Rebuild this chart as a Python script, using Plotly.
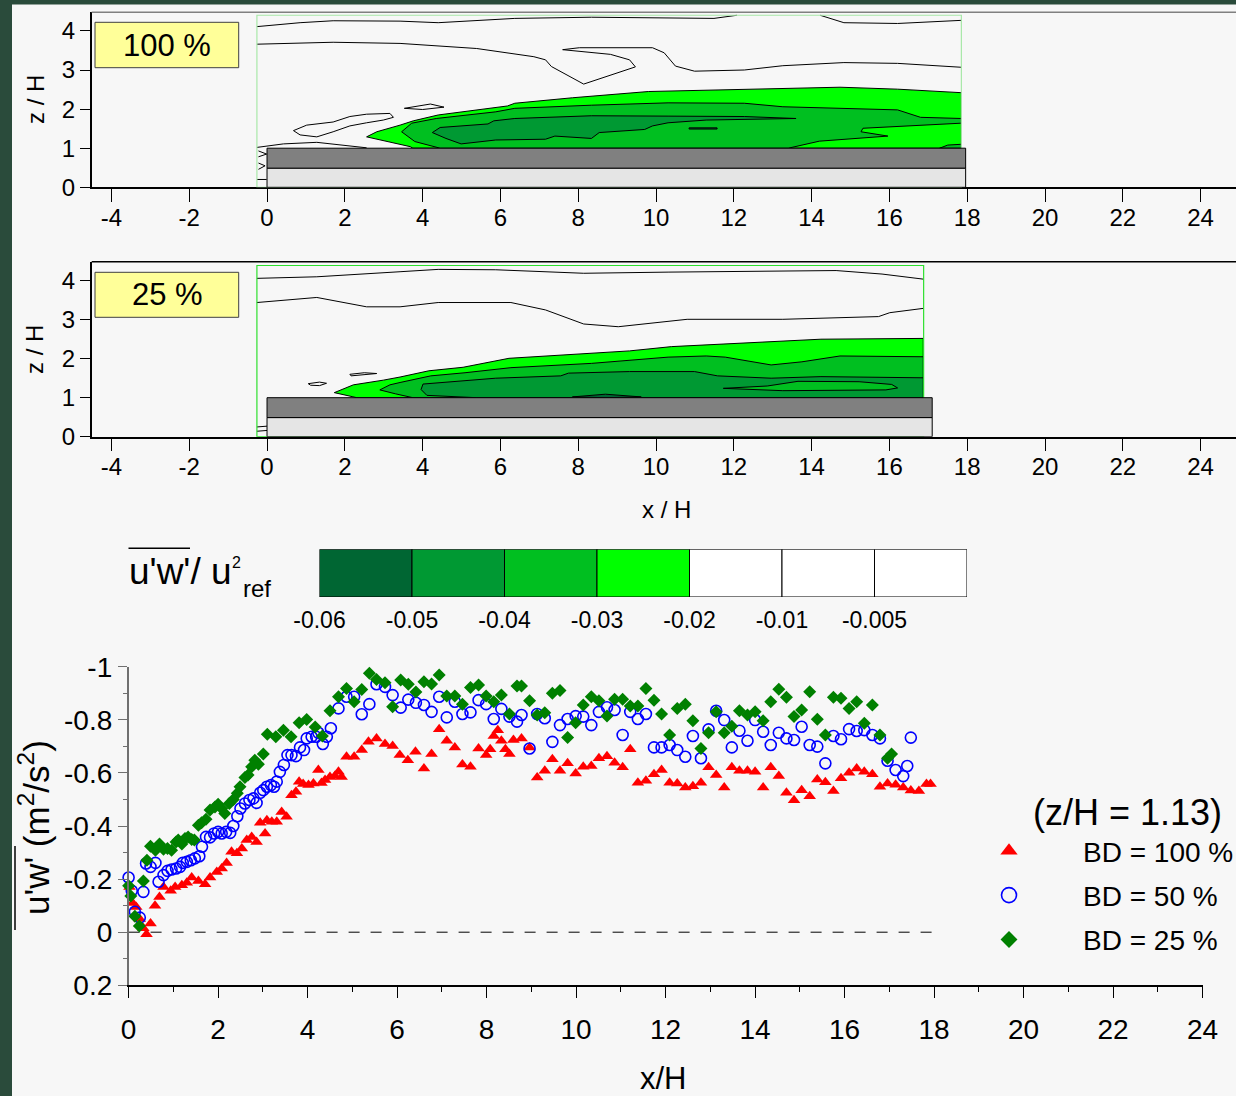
import plotly.graph_objects as go

W, H = 1236, 1096
FONT = "Liberation Sans, Arial, sans-serif"

# ---------------- scatter data (z/H = 1.13) ----------------
bd100_x = [0.02, 0.09, 0.17, 0.25, 0.33, 0.40, 0.49, 0.59, 0.69, 0.78,
           0.94, 1.04, 1.19, 1.30, 1.41, 1.56, 1.71, 1.82, 1.97, 2.08,
           2.19, 2.30, 2.42, 2.53, 2.64, 2.75, 2.86, 2.94, 3.05, 3.09,
           3.20, 3.31, 3.42, 3.53, 3.64, 3.74, 3.81, 3.90, 4.02, 4.13,
           4.24, 4.31, 4.39, 4.50, 4.61, 4.69, 4.76, 4.87, 5.04, 5.21,
           5.36, 5.54, 5.73, 5.90, 6.06,
           6.24, 6.41, 6.60, 6.77, 6.94, 7.11, 7.29, 7.46, 7.64, 7.82,
           7.99, 8.08, 8.16, 8.25, 8.33, 8.42, 8.51, 8.60, 8.78, 8.96,
           9.13, 9.30, 9.47, 9.64, 9.81, 9.99, 10.16, 10.34, 10.51, 10.69,
           10.86, 11.04, 11.21, 11.38, 11.56, 11.74, 11.91, 12.09, 12.26, 12.44,
           12.61, 12.79, 12.96, 13.13, 13.31, 13.48, 13.65, 13.83, 14.00, 14.18,
           14.35, 14.53, 14.70, 14.87, 15.04, 15.22, 15.39, 15.57, 15.75, 15.92,
           16.10, 16.27, 16.44, 16.62, 16.79, 16.96, 17.14, 17.31, 17.48, 17.66,
           17.83, 17.92]
bd100_y = [-0.17, -0.11, -0.095, -0.05, -0.015, 0.008, -0.033, -0.10, -0.133, -0.17,
           -0.156, -0.170, -0.177, -0.186, -0.206, -0.193, -0.181, -0.206, -0.227, -0.240,
           -0.261, -0.303, -0.297, -0.315, -0.347, -0.359, -0.340, -0.412, -0.372, -0.422,
           -0.416, -0.416, -0.453, -0.435, -0.516, -0.529, -0.567, -0.558, -0.554, -0.560,
           -0.611, -0.562, -0.573, -0.585, -0.588, -0.604, -0.585, -0.661, -0.661, -0.686,
           -0.717, -0.730, -0.709, -0.701, -0.667,
           -0.648, -0.680, -0.617, -0.671, -0.764, -0.721, -0.696, -0.632, -0.623, -0.692,
           -0.667, -0.689, -0.739, -0.761, -0.721, -0.689, -0.671, -0.724, -0.730, -0.696,
           -0.583, -0.608, -0.651, -0.608, -0.636, -0.598, -0.623, -0.626, -0.655, -0.663,
           -0.638, -0.621, -0.689, -0.563, -0.570, -0.595, -0.611, -0.563, -0.560, -0.545,
           -0.550, -0.563, -0.621, -0.592, -0.545, -0.621, -0.608, -0.608, -0.604, -0.545,
           -0.621, -0.588, -0.525, -0.497, -0.535, -0.512, -0.575, -0.565, -0.532, -0.580,
           -0.601, -0.617, -0.604, -0.595, -0.548, -0.560, -0.555, -0.545, -0.534, -0.532,
           -0.558, -0.558]

bd50_x = [0.00, 0.07, 0.14, 0.25, 0.33, 0.39, 0.49, 0.60, 0.67, 0.78,
          0.87, 0.96, 1.06, 1.15, 1.21, 1.30, 1.39, 1.48, 1.58, 1.64,
          1.73, 1.82, 1.91, 2.00, 2.08, 2.18, 2.27, 2.34, 2.43, 2.50,
          2.60, 2.70, 2.79, 2.86, 2.94, 3.01, 3.09, 3.18, 3.25, 3.31,
          3.38, 3.47, 3.55, 3.64, 3.74, 3.83, 3.92, 3.98, 4.09, 4.19,
          4.24, 4.34, 4.43, 4.52, 4.69, 4.87, 5.04, 5.21, 5.38, 5.54,
          5.73, 5.90, 6.08, 6.25, 6.42,
          6.60, 6.77, 6.94, 7.11, 7.29, 7.46, 7.64, 7.82, 7.99, 8.16,
          8.33, 8.51, 8.68, 8.78, 8.96, 9.13, 9.30, 9.47, 9.64, 9.81,
          9.99, 10.16, 10.34, 10.51, 10.69, 10.86, 11.04, 11.21, 11.38, 11.56,
          11.74, 11.91, 12.09, 12.26, 12.44, 12.61, 12.79, 12.96, 13.13, 13.31,
          13.48, 13.65, 13.83, 14.00, 14.18, 14.35, 14.53, 14.70, 14.87, 15.04,
          15.22, 15.39, 15.57, 15.75, 15.92, 16.10, 16.27, 16.44, 16.62, 16.79,
          16.96, 17.14, 17.31, 17.40, 17.48]
bd50_y = [-0.206, -0.156, -0.077, -0.055, -0.152, -0.259, -0.246, -0.261, -0.190, -0.215,
          -0.231, -0.236, -0.240, -0.246, -0.261, -0.265, -0.271, -0.278, -0.286, -0.322,
          -0.359, -0.357, -0.372, -0.378, -0.372, -0.378, -0.374, -0.400, -0.437, -0.466,
          -0.485, -0.498, -0.504, -0.487, -0.525, -0.535, -0.548, -0.554, -0.548, -0.567,
          -0.604, -0.630, -0.667, -0.667, -0.663, -0.696, -0.686, -0.730, -0.736, -0.736,
          -0.751, -0.709, -0.736, -0.768, -0.843, -0.887, -0.887, -0.821, -0.859, -0.934,
          -0.924, -0.893, -0.846, -0.876, -0.864,
          -0.856, -0.830, -0.887, -0.809, -0.868, -0.822, -0.828, -0.874, -0.859, -0.803,
          -0.841, -0.812, -0.793, -0.818, -0.692, -0.822, -0.806, -0.717, -0.780, -0.803,
          -0.814, -0.812, -0.780, -0.830, -0.847, -0.837, -0.743, -0.830, -0.803, -0.822,
          -0.696, -0.696, -0.705, -0.686, -0.661, -0.739, -0.655, -0.764, -0.834, -0.799,
          -0.696, -0.759, -0.721, -0.799, -0.755, -0.705, -0.751, -0.730, -0.724, -0.774,
          -0.705, -0.699, -0.636, -0.739, -0.727, -0.765, -0.758, -0.761, -0.743, -0.730,
          -0.646, -0.611, -0.588, -0.626, -0.733]

bd25_x = [0.00, 0.05, 0.14, 0.24, 0.33, 0.41, 0.49, 0.60, 0.69, 0.78,
          0.87, 0.96, 1.06, 1.11, 1.19, 1.26, 1.33, 1.41, 1.47, 1.56,
          1.63, 1.73, 1.82, 1.93, 2.00, 2.08, 2.15, 2.25, 2.34, 2.43,
          2.49, 2.60, 2.67, 2.75, 2.82, 2.90, 3.01, 3.10, 3.29, 3.46,
          3.63, 3.81, 3.98, 4.17, 4.33, 4.50, 4.69, 4.87, 5.04, 5.21,
          5.38, 5.54, 5.73, 5.90, 6.08, 6.25, 6.42,
          6.60, 6.77, 6.94, 7.11, 7.29, 7.46, 7.64, 7.82, 7.99, 8.16,
          8.33, 8.51, 8.68, 8.78, 8.96, 9.13, 9.30, 9.47, 9.64, 9.81,
          9.99, 10.16, 10.34, 10.51, 10.69, 10.86, 11.04, 11.21, 11.38, 11.56,
          11.74, 11.91, 12.09, 12.26, 12.44, 12.61, 12.79, 12.96, 13.13, 13.31,
          13.48, 13.65, 13.83, 14.00, 14.18, 14.35, 14.53, 14.70, 14.87, 15.04,
          15.22, 15.39, 15.57, 15.75, 15.92, 16.10, 16.27, 16.44, 16.62, 16.79,
          16.96, 17.05]
bd25_y = [-0.175, -0.136, -0.060, -0.023, -0.193, -0.271, -0.324, -0.309, -0.332, -0.312,
          -0.315, -0.309, -0.340, -0.347, -0.332, -0.353, -0.359, -0.349, -0.347, -0.403,
          -0.412, -0.425, -0.460, -0.472, -0.482, -0.466, -0.447, -0.485, -0.500, -0.523,
          -0.548, -0.583, -0.592, -0.623, -0.648, -0.633, -0.671, -0.746, -0.736, -0.761,
          -0.736, -0.789, -0.801, -0.773, -0.739, -0.834, -0.887, -0.918, -0.868, -0.914,
          -0.975, -0.952, -0.940, -0.849, -0.950, -0.934, -0.905,
          -0.943, -0.935, -0.969, -0.890, -0.890, -0.859, -0.922, -0.931, -0.890, -0.868,
          -0.893, -0.822, -0.927, -0.927, -0.872, -0.818, -0.827, -0.900, -0.910, -0.733,
          -0.789, -0.856, -0.887, -0.872, -0.814, -0.877, -0.877, -0.852, -0.852, -0.918,
          -0.874, -0.822, -0.743, -0.843, -0.859, -0.796, -0.692, -0.751, -0.830, -0.751,
          -0.776, -0.834, -0.818, -0.830, -0.796, -0.868, -0.915, -0.885, -0.812, -0.837,
          -0.906, -0.802, -0.743, -0.885, -0.881, -0.843, -0.868, -0.787, -0.856, -0.743,
          -0.655, -0.671]

zero_line_x = [0, 18]
zero_line_y = [0, 0]

series_names = ["BD = 100 %", "BD = 50 %", "BD = 25 %"]
legend_title = "(z/H = 1.13)"

# ---------------- colour bar ----------------
level_labels = ["-0.06", "-0.05", "-0.04", "-0.03", "-0.02", "-0.01", "-0.005"]
level_colors = ["#006633", "#009933", "#00bf20", "#00ff00", "#ffffff", "#ffffff", "#ffffff"]

# ---------------- contour outlines, panel "100 %" (x/H, z/H) ----------------
c100_l2_x = [2.56, 2.82, 3.42, 3.76, 4.40, 5.39, 6.18, 6.37, 7.85, 9.81, 12.27, 14.73, 16.21, 17.85, 17.85, 3.75, 3.68, 2.91, 2.56]
c100_l2_z = [1.29, 1.42, 1.59, 1.70, 1.85, 1.98, 2.08, 2.15, 2.29, 2.45, 2.51, 2.56, 2.51, 2.42, 1.00, 1.00, 1.04, 1.21, 1.29]
c100_l3_x = [3.46, 3.72, 4.35, 5.88, 6.37, 8.34, 10.31, 12.27, 13.26, 14.73, 16.21, 16.80, 17.85, 17.85, 15.32, 15.27, 15.96, 14.20, 13.40, 4.45, 3.80, 3.46]
c100_l3_z = [1.42, 1.64, 1.76, 1.93, 2.02, 2.10, 2.16, 2.15, 2.06, 2.02, 1.98, 1.79, 1.76, 1.64, 1.51, 1.42, 1.31, 1.18, 1.00, 1.00, 1.17, 1.42]
c100_l3b_x = [17.29, 17.50, 17.85, 17.85, 17.29]
c100_l3b_z = [1.00, 1.08, 1.10, 1.00, 1.00]
c100_l4_x = [4.25, 4.45, 5.68, 5.83, 6.37, 8.34, 10.31, 12.27, 13.60, 11.29, 10.31, 9.91, 9.71, 8.54, 8.34, 7.40, 7.16, 5.88, 4.99, 4.60, 4.25]
c100_l4_z = [1.40, 1.53, 1.62, 1.70, 1.76, 1.83, 1.82, 1.81, 1.76, 1.72, 1.65, 1.57, 1.48, 1.40, 1.25, 1.31, 1.23, 1.21, 1.11, 1.25, 1.40]
c100_l5_x = [10.85, 11.57, 11.57, 10.85, 10.85]
c100_l5_z = [1.49, 1.49, 1.52, 1.52, 1.49]
c100_lines_x = [-0.26, 0.85, 1.70, 3.42, 4.40, 6.37, 8.34, 10.31, 11.49, 12.08, None,
                14.22, 14.83, 16.21, 17.85, None,
                -0.26, 1.70, 3.42, 5.39, 6.86, 7.16, 7.31, 8.14, 9.47, 9.32, 8.83, 7.60, 8.03, 9.91,
                10.21, 10.50, 10.99, 12.27, 13.26, 14.83, 16.21, 17.85, None,
                0.68, 1.02, 1.70, 2.13, 2.56, 3.16, 3.25, 2.99, 2.56, 2.13, 1.70, 1.28, 0.85, 0.68, None,
                3.53, 4.20, 4.55, 4.00, 3.53, None,
                -0.26, 0.42, 1.28, 2.13, 2.56, None,
                -0.22, -0.01, -0.22, None, -0.22, -0.05, -0.22, None, -0.26, -0.01]
c100_lines_z = [4.11, 4.21, 4.26, 4.25, 4.21, 4.32, 4.35, 4.32, 4.32, 4.40, None,
                4.40, 4.21, 4.19, 4.27, None,
                3.66, 3.71, 3.68, 3.55, 3.34, 3.26, 3.09, 2.64, 3.08, 3.26, 3.40, 3.52, 3.57, 3.57,
                3.44, 3.10, 2.97, 3.00, 3.11, 3.19, 3.17, 3.07, None,
                1.45, 1.59, 1.67, 1.81, 1.87, 1.89, 1.79, 1.72, 1.65, 1.57, 1.42, 1.29, 1.34, 1.45, None,
                2.02, 2.13, 2.05, 1.99, 2.02, None,
                1.02, 1.11, 1.15, 1.06, 1.01, None,
                0.93, 0.85, 0.78, None, 0.62, 0.55, 0.46, None, 0.20, 0.20]

# ---------------- contour outlines, panel "25 %" ----------------
c25_l2_x = [1.73, 2.22, 2.99, 3.42, 4.16, 5.04, 6.22, 9.32, 10.40, 12.27, 14.24, 16.87, 16.87, 2.31, 1.73]
c25_l2_z = [1.13, 1.33, 1.45, 1.53, 1.69, 1.78, 2.01, 2.20, 2.31, 2.41, 2.50, 2.52, 1.00, 1.00, 1.13]
c25_l3_x = [2.90, 3.16, 3.42, 4.21, 5.09, 6.27, 8.34, 10.31, 11.29, 11.78, 12.96, 13.75, 14.73, 16.87, 16.87, 3.75, 3.30, 2.90]
c25_l3_z = [1.20, 1.33, 1.39, 1.56, 1.64, 1.77, 1.88, 2.04, 2.07, 2.04, 1.84, 1.92, 2.07, 2.05, 1.00, 1.00, 1.10, 1.20]
c25_l4_x = [4.01, 5.88, 7.55, 7.75, 9.32, 10.99, 11.58, 12.96, 14.24, 16.87, 16.87, 5.39, 4.11, 3.96, 4.01]
c25_l4_z = [1.35, 1.50, 1.56, 1.63, 1.67, 1.67, 1.56, 1.50, 1.54, 1.51, 1.00, 1.00, 1.06, 1.21, 1.35]
c25_l3b_x = [11.73, 12.86, 13.65, 15.22, 16.06, 16.21, 15.91, 13.26, 11.73]
c25_l3b_z = [1.24, 1.30, 1.42, 1.41, 1.34, 1.25, 1.20, 1.18, 1.24]
c25_l5_x = [7.85, 8.70, 9.62, 8.70, 7.85]
c25_l5_z = [1.02, 1.09, 1.02, 1.00, 1.02]
c25_lines_x = [-0.26, 1.28, 3.42, 4.40, 5.88, 8.14, 10.31, 14.63, 15.81, 16.87, None,
               -0.26, 1.28, 2.56, 3.42, 4.40, 6.27, 7.16, 8.14, 9.03, 10.31, 10.80, 13.26, 15.72, 16.01, 16.87, None,
               1.06, 1.35, 1.53, 1.35, 1.12, 1.06, None,
               2.13, 2.50, 2.82, 2.40, 2.16, 2.13, None,
               -0.26, 0.0, None, -0.26, 0.0]
c25_lines_z = [4.06, 4.10, 4.23, 4.29, 4.28, 4.19, 4.22, 4.26, 4.17, 4.04, None,
               3.44, 3.57, 3.33, 3.33, 3.44, 3.44, 3.25, 2.89, 2.82, 2.97, 3.01, 3.01, 3.08, 3.18, 3.29, None,
               1.36, 1.40, 1.37, 1.31, 1.32, 1.36, None,
               1.60, 1.64, 1.62, 1.58, 1.56, 1.60, None,
               0.25, 0.27, None, 0.14, 0.16]

# geometry of the model and measurement windows (x/H, z/H)
bld_len_100, bld_len_25 = 17.96, 17.10
podium_top, roof_top = 0.49, 1.0
win_100 = (-0.26, 17.85, 4.40)
win_25 = (-0.26, 16.88, 4.39)

panel_ticks = list(range(-4, 25, 2))
panel_zticks = [0, 1, 2, 3, 4]
main_xticks = list(range(0, 25, 2))
main_yticks = [-1, -0.8, -0.6, -0.4, -0.2, 0, 0.2]
main_ytext = ["-1", "-0.8", "-0.6", "-0.4", "-0.2", "0", "0.2"]


def fx(p):
    return p / W


def fy(p):
    return 1 - p / H


fig = go.Figure()


def poly(xs, zs, color, xa, ya):
    fig.add_trace(go.Scatter(x=xs, y=zs, mode="lines", fill="toself", fillcolor=color,
                             line=dict(color="black", width=1), xaxis=xa, yaxis=ya,
                             showlegend=False, hoverinfo="skip"))


poly(c100_l2_x, c100_l2_z, level_colors[3], "x", "y")
poly(c100_l3_x, c100_l3_z, level_colors[2], "x", "y")
poly(c100_l3b_x, c100_l3b_z, level_colors[2], "x", "y")
poly(c100_l4_x, c100_l4_z, level_colors[1], "x", "y")
poly(c100_l5_x, c100_l5_z, level_colors[0], "x", "y")
fig.add_trace(go.Scatter(x=c100_lines_x, y=c100_lines_z, mode="lines", line=dict(color="black", width=1),
                         xaxis="x", yaxis="y", showlegend=False, hoverinfo="skip"))

poly(c25_l2_x, c25_l2_z, level_colors[3], "x2", "y2")
poly(c25_l3_x, c25_l3_z, level_colors[2], "x2", "y2")
poly(c25_l4_x, c25_l4_z, level_colors[1], "x2", "y2")
poly(c25_l3b_x, c25_l3b_z, level_colors[2], "x2", "y2")
poly(c25_l5_x, c25_l5_z, level_colors[0], "x2", "y2")
fig.add_trace(go.Scatter(x=c25_lines_x, y=c25_lines_z, mode="lines", line=dict(color="black", width=1),
                         xaxis="x2", yaxis="y2", showlegend=False, hoverinfo="skip"))

# colour bar boxes
fig.add_trace(go.Bar(x=[i + 0.5 for i in range(len(level_labels))], y=[1] * len(level_labels),
                     width=1, marker=dict(color=level_colors, line=dict(color="black", width=1)),
                     xaxis="x3", yaxis="y3", showlegend=False, hoverinfo="skip", cliponaxis=False))

# zero line
fig.add_trace(go.Scatter(x=zero_line_x, y=zero_line_y, mode="lines",
                         line=dict(color="black", width=1, dash="11px,11px"),
                         xaxis="x4", yaxis="y4", showlegend=False, hoverinfo="skip"))

marker_styles = [
    dict(symbol="triangle-up", size=11, color="#ff0000", line=dict(width=0)),
    dict(symbol="circle-open", size=11, color="#0000ff", line=dict(width=1.6)),
    dict(symbol="diamond", size=10, color="#008000", line=dict(width=0)),
]
legend_sizes = [15, 15, 13]
for name, xs, ys, ms, grp in zip(series_names, [bd100_x, bd50_x, bd25_x], [bd100_y, bd50_y, bd25_y],
                                 marker_styles, ["a", "b", "c"]):
    fig.add_trace(go.Scatter(x=xs, y=ys, mode="markers", name=name, legendgroup=grp, showlegend=False,
                             marker=ms, xaxis="x4", yaxis="y4", cliponaxis=False))
for name, ms, lsz, grp in zip(series_names, marker_styles, legend_sizes, ["a", "b", "c"]):
    big = dict(ms)
    big["size"] = lsz
    fig.add_trace(go.Scatter(x=[None], y=[None], mode="markers", name=name, legendgroup=grp,
                             marker=big, xaxis="x4", yaxis="y4"))

shapes = []
# light page background
shapes.append(dict(type="rect", xref="paper", yref="paper", x0=fx(12), x1=1, y0=0, y1=fy(4.5),
                   fillcolor="#f7f7f7", line=dict(width=0), layer="below"))
# label boxes
for top, bot in [(22.3, 67.7), (272.3, 317.3)]:
    shapes.append(dict(type="rect", xref="paper", yref="paper", x0=fx(95), x1=fx(238.7), y0=fy(bot), y1=fy(top),
                       fillcolor="#ffff99", line=dict(color="#404040", width=1), layer="above"))
# frame top lines of the two contour panels
shapes.append(dict(type="line", xref="paper", yref="paper", x0=fx(91.7), x1=1, y0=fy(12.3), y1=fy(12.3),
                   line=dict(color="#808080", width=1.5)))
shapes.append(dict(type="line", xref="paper", yref="paper", x0=fx(91.7), x1=1, y0=fy(261.7), y1=fy(261.7),
                   line=dict(color="black", width=1.5)))
# measurement windows and model
for xa, ya, win, blen, fcol in [("x", "y", win_100, bld_len_100, "#a8e8a8"), ("x2", "y2", win_25, bld_len_25, "#2ee02e")]:
    shapes.append(dict(type="rect", xref=xa, yref=ya, x0=win[0], x1=win[1], y0=0, y1=win[2],
                       line=dict(color=fcol, width=1.2), layer="above"))
    shapes.append(dict(type="rect", xref=xa, yref=ya, x0=0, x1=blen, y0=0, y1=podium_top,
                       fillcolor="#e5e5e5", line=dict(color="black", width=1), layer="above"))
    shapes.append(dict(type="rect", xref=xa, yref=ya, x0=0, x1=blen, y0=podium_top, y1=roof_top,
                       fillcolor="#808080", line=dict(color="black", width=1), layer="above"))
# overlines
shapes.append(dict(type="line", xref="paper", yref="paper", x0=fx(128.5), x1=fx(190), y0=fy(548.3), y1=fy(548.3),
                   line=dict(color="black", width=1.5)))
shapes.append(dict(type="line", xref="paper", yref="paper", x0=fx(15), x1=fx(15), y0=fy(930), y1=fy(846),
                   line=dict(color="black", width=1.5)))

annotations = []


def ann(text, x, y, size, **kw):
    d = dict(text=text, x=fx(x), y=fy(y), xref="paper", yref="paper", showarrow=False,
             font=dict(size=size, color="black", family=FONT), xanchor="center", yanchor="middle")
    d.update(kw)
    annotations.append(d)


ann("100 %", 167, 45, 31)
ann("25 %", 167, 295, 31)
ann("z / H", 35, 100, 24, textangle=-90)
ann("z / H", 35, 350, 24, textangle=-90)
ann("x / H", 667, 509, 24)
ann("u'w'/ u", 127, 571, 37, xanchor="left")
ann("2", 236, 562, 16)
ann("ref", 241, 588, 24, xanchor="left")
ann("u'w' (m<sup>2</sup>/s<sup>2</sup>)", 34, 828, 35, textangle=-90)
ann("x/H", 664, 1078, 31)
ann(legend_title, 1127, 812, 36)

panel_x = dict(range=[-4.507, 24.91], tickvals=panel_ticks, ticktext=[str(v) for v in panel_ticks],
               ticks="outside", ticklen=13, tickcolor="black", showline=True, linecolor="black", linewidth=1.5,
               showgrid=False, zeroline=False, tickfont=dict(size=24), domain=[fx(91.7), 1],
               ticklabelstandoff=-5)
panel_y = dict(tickvals=panel_zticks, ticktext=[str(v) for v in panel_zticks], ticks="outside", ticklen=10,
               tickcolor="black", showline=True, linecolor="black", linewidth=1.5, showgrid=False,
               zeroline=False, tickfont=dict(size=24))

fig.update_layout(
    width=W, height=H,
    margin=dict(l=0, r=0, t=0, b=0, autoexpand=False),
    paper_bgcolor="#2a4b3b", plot_bgcolor="rgba(0,0,0,0)",
    font=dict(family=FONT, color="black"),
    xaxis=dict(panel_x, anchor="y"),
    yaxis=dict(panel_y, anchor="x", domain=[fy(187.3), fy(12.3)], range=[0, 4.476]),
    xaxis2=dict(panel_x, anchor="y2"),
    yaxis2=dict(panel_y, anchor="x2", domain=[fy(436.7), fy(261.7)], range=[0, 4.487]),
    xaxis3=dict(anchor="y3", domain=[fx(319.5), fx(967)], range=[0, 7],
                tickvals=list(range(len(level_labels))), ticktext=level_labels, ticks="", showline=False,
                showgrid=False, zeroline=False, tickfont=dict(size=23), ticklabelstandoff=7),
    yaxis3=dict(anchor="x3", domain=[fy(597), fy(549.3)], range=[0, 1], visible=False),
    xaxis4=dict(anchor="y4", domain=[fx(128.6), fx(1202.6)], range=[0, 24], tickvals=main_xticks,
                ticktext=[str(v) for v in main_xticks], ticks="outside", ticklen=11, tickcolor="black",
                tickwidth=1.2, showline=True, linecolor="black", linewidth=1.5, showgrid=False, zeroline=False,
                tickfont=dict(size=28), ticklabelstandoff=7,
                minor=dict(tickvals=list(range(1, 24, 2)), ticks="outside", ticklen=5, tickcolor="black", showgrid=False)),
    yaxis4=dict(anchor="x4", domain=[fy(985.3), fy(666.7)], range=[0.2, -1], tickvals=main_yticks,
                ticktext=main_ytext, ticks="outside", ticklen=9, tickcolor="#707070", tickwidth=1.2,
                showline=True, linecolor="#707070", linewidth=1.5, showgrid=False, zeroline=False,
                tickfont=dict(size=28),
                minor=dict(tickvals=[-0.9, -0.7, -0.5, -0.3, -0.1, 0.1], ticks="outside", ticklen=4,
                           tickcolor="#707070", showgrid=False)),
    showlegend=True,
    legend=dict(x=fx(935), xanchor="left", y=fy(826), yanchor="top", bgcolor="rgba(0,0,0,0)",
                font=dict(size=28, family=FONT), itemwidth=138, tracegroupgap=5, itemsizing="trace"),
    shapes=shapes,
    annotations=annotations,
)

fig.write_html("out.html")
